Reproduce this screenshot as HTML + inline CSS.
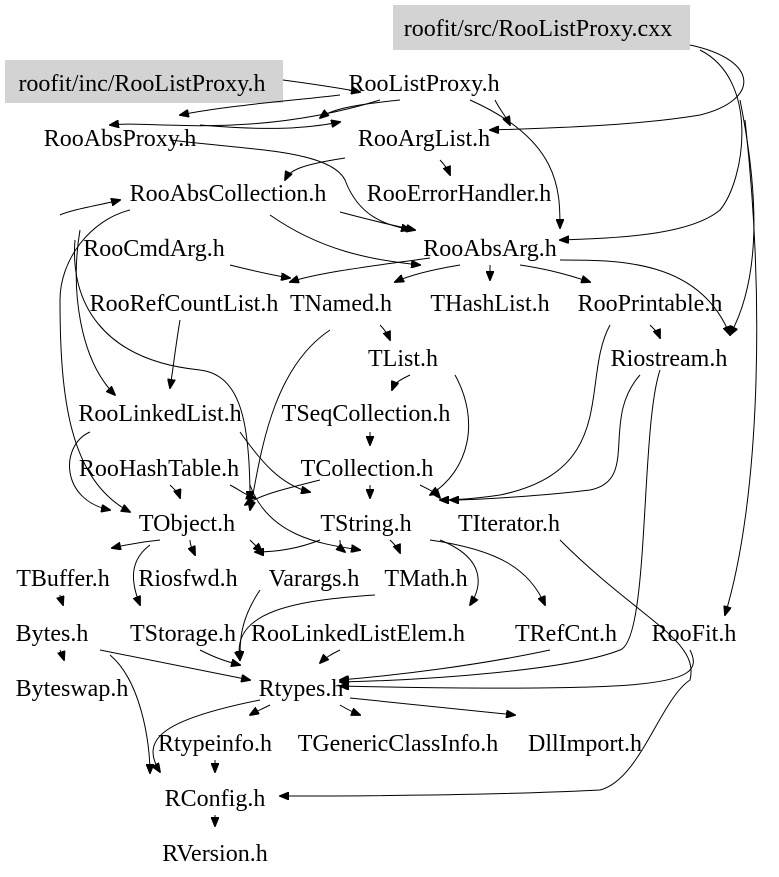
<!DOCTYPE html>
<html><head><meta charset="utf-8"><style>
html,body{margin:0;padding:0;background:#fff;width:779px;height:877px;overflow:hidden}
svg text{font-family:"Liberation Serif",serif;font-size:24px;fill:#000;text-anchor:middle}
path{fill:none;stroke:#000;stroke-width:1}
</style></head><body>
<svg width="779" height="877" viewBox="0 0 779 877" xmlns="http://www.w3.org/2000/svg">
<defs><marker id="a" markerWidth="10" markerHeight="8" refX="9" refY="4" orient="auto" markerUnits="userSpaceOnUse"><path d="M0,0 L10,4 L0,8 Z" style="fill:#000;stroke:#000"/></marker></defs>
<rect x="393" y="5" width="297" height="45" fill="#d3d3d3"/>
<rect x="5" y="60" width="278" height="43" fill="#d3d3d3"/>
<g marker-end="url(#a)">
<path d="M690,45 C760,60 760,100 700,115 C640,125 560,128 490,130"/>
<path d="M700,50 C760,80 745,180 720,210 C690,235 620,238 560,240"/>
<path d="M740,100 C760,200 760,280 730,335"/>
<path d="M745,120 C765,300 760,500 725,615"/>
<path d="M283,80 C320,85 350,90 360,92"/>
<path d="M340,95 C300,100 230,105 180,115"/>
<path d="M470,100 C560,140 560,190 560,228"/>
<path d="M400,100 C350,105 330,110 320,118"/>
<path d="M495,100 C500,110 505,115 510,125"/>
<path d="M200,125 C260,130 300,130 340,122"/>
<path d="M380,100 C250,140 150,120 110,125"/>
<path d="M170,140 C250,150 330,150 345,180 C360,220 390,225 410,230"/>
<path d="M345,158 C300,165 290,170 285,180"/>
<path d="M440,160 C445,165 448,170 450,175"/>
<path d="M340,212 C370,220 390,225 415,230"/>
<path d="M270,215 C320,250 370,260 420,265"/>
<path d="M130,210 C90,220 60,260 60,300 C60,400 70,480 130,512"/>
<path d="M80,230 C70,290 80,360 115,395"/>
<path d="M75,240 C70,300 100,360 200,370 C240,375 250,420 250,500"/>
<path d="M230,265 C250,270 270,275 290,278"/>
<path d="M60,215 C70,210 100,205 120,200"/>
<path d="M460,265 C430,270 410,275 395,282"/>
<path d="M490,265 C490,270 490,275 490,280"/>
<path d="M520,265 C540,268 560,272 590,282"/>
<path d="M560,260 C620,260 700,260 730,335"/>
<path d="M430,258 C380,265 320,272 290,282"/>
<path d="M180,320 C175,350 173,370 170,388"/>
<path d="M380,325 C385,330 388,335 390,340"/>
<path d="M650,325 C655,330 658,333 660,338"/>
<path d="M330,330 C270,370 260,460 250,510"/>
<path d="M410,375 C400,380 395,382 392,390"/>
<path d="M455,375 C480,420 470,470 430,495"/>
<path d="M370,432 C370,436 370,440 370,445"/>
<path d="M240,432 C260,460 280,485 310,492"/>
<path d="M90,432 C60,445 60,500 110,510"/>
<path d="M370,485 C370,488 370,490 370,498"/>
<path d="M320,480 C280,490 260,495 245,505"/>
<path d="M170,485 C175,490 178,492 180,498"/>
<path d="M230,485 C240,490 245,495 255,498"/>
<path d="M250,485 C270,540 330,545 360,550"/>
<path d="M420,485 C430,490 435,492 440,498"/>
<path d="M640,375 C600,420 640,480 590,490 C550,495 480,500 450,500"/>
<path d="M610,325 C580,380 620,470 500,495 C480,498 460,500 440,500"/>
<path d="M660,370 C640,430 650,640 620,650 C570,670 430,680 340,682"/>
<path d="M190,540 C190,545 192,548 195,555"/>
<path d="M150,545 C130,560 130,580 140,605"/>
<path d="M250,540 C255,545 258,548 262,552"/>
<path d="M160,540 C140,542 125,545 112,548"/>
<path d="M320,540 C300,548 280,552 255,552"/>
<path d="M340,540 C340,545 340,548 345,552"/>
<path d="M390,540 C395,545 398,548 400,553"/>
<path d="M430,540 C500,550 530,570 545,605"/>
<path d="M440,540 C490,560 480,590 470,605"/>
<path d="M560,540 C640,620 700,640 690,680 C660,700 640,780 600,790 C500,795 380,796 280,796"/>
<path d="M375,595 C300,600 230,610 240,660"/>
<path d="M260,590 C240,620 240,640 240,660"/>
<path d="M60,595 C60,600 62,602 63,605"/>
<path d="M60,650 C62,655 63,657 64,660"/>
<path d="M100,650 C150,660 200,670 250,680"/>
<path d="M110,655 C140,680 150,740 150,773"/>
<path d="M200,650 C210,655 220,660 240,665"/>
<path d="M340,650 C330,655 325,658 320,663"/>
<path d="M550,650 C480,665 400,675 340,680"/>
<path d="M690,650 C700,670 690,680 630,685 C560,690 420,688 340,686"/>
<path d="M270,705 C260,710 255,712 250,715"/>
<path d="M340,705 C345,708 350,711 360,715"/>
<path d="M350,698 C420,705 470,710 515,715"/>
<path d="M260,700 C160,720 140,740 160,772"/>
<path d="M215,760 C215,765 215,768 215,772"/>
<path d="M215,815 C215,818 215,820 215,826"/>
</g>
<text x="538" y="36">roofit/src/RooListProxy.cxx</text>
<text x="142" y="91">roofit/inc/RooListProxy.h</text>
<text x="424" y="91">RooListProxy.h</text>
<text x="120" y="146">RooAbsProxy.h</text>
<text x="424" y="146">RooArgList.h</text>
<text x="228" y="201">RooAbsCollection.h</text>
<text x="459" y="201">RooErrorHandler.h</text>
<text x="154" y="256">RooCmdArg.h</text>
<text x="490" y="256">RooAbsArg.h</text>
<text x="184" y="311">RooRefCountList.h</text>
<text x="341" y="311">TNamed.h</text>
<text x="490" y="311">THashList.h</text>
<text x="650" y="311">RooPrintable.h</text>
<text x="403" y="366">TList.h</text>
<text x="669" y="366">Riostream.h</text>
<text x="160" y="421">RooLinkedList.h</text>
<text x="366" y="421">TSeqCollection.h</text>
<text x="159" y="476">RooHashTable.h</text>
<text x="367" y="476">TCollection.h</text>
<text x="187" y="531">TObject.h</text>
<text x="366" y="531">TString.h</text>
<text x="509" y="531">TIterator.h</text>
<text x="63" y="586">TBuffer.h</text>
<text x="188" y="586">Riosfwd.h</text>
<text x="314" y="586">Varargs.h</text>
<text x="426" y="586">TMath.h</text>
<text x="52" y="641">Bytes.h</text>
<text x="183" y="641">TStorage.h</text>
<text x="358" y="641">RooLinkedListElem.h</text>
<text x="566" y="641">TRefCnt.h</text>
<text x="694" y="641">RooFit.h</text>
<text x="72" y="696">Byteswap.h</text>
<text x="301" y="696">Rtypes.h</text>
<text x="215" y="751">Rtypeinfo.h</text>
<text x="398" y="751">TGenericClassInfo.h</text>
<text x="585" y="751">DllImport.h</text>
<text x="215" y="806">RConfig.h</text>
<text x="215" y="861">RVersion.h</text>
</svg>
</body></html>
